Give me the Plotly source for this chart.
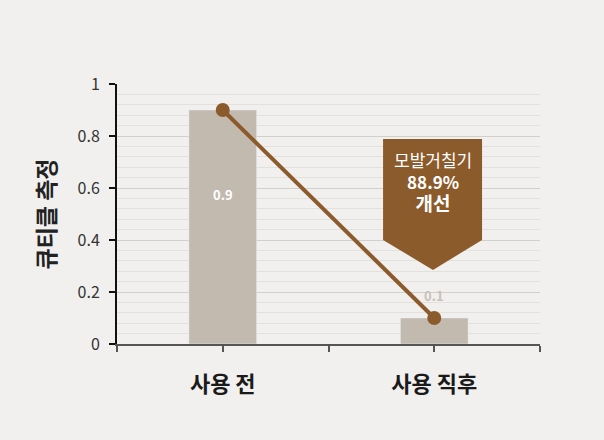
import plotly.graph_objects as go

categories = ["사용 전", "사용 직후"]
values = [0.9, 0.1]
value_label_y = [0.576, 0.188]
y_ticks = [0, 0.2, 0.4, 0.6, 0.8, 1]
y_tick_text = ["0", "0.2", "0.4", "0.6", "0.8", "1"]
callout_lines = ["모발거칠기", "<b>88.9%</b>",
                 "<span style='font-size:19px'><b>개선</b></span>"]

font = "Noto Sans CJK KR"
bg = "#f1f0ee"
brown = "#8c5b2c"
bar_col = "#c2b9af"

xpos = list(range(len(categories)))

fig = go.Figure()
fig.add_trace(go.Bar(x=xpos, y=values, width=0.32, marker_color=bar_col,
                     hoverinfo="y"))
fig.add_trace(go.Scatter(x=xpos, y=values, mode="lines+markers",
                         line=dict(color=brown, width=4),
                         marker=dict(color=brown, size=14)))

# value labels
label_cols = ["#ffffff", "#c9c1b8"]
for i, v in enumerate(values):
    fig.add_annotation(x=xpos[i], y=value_label_y[i], text="<b>%g</b>" % v,
                       showarrow=False,
                       font=dict(family=font, size=13, color=label_cols[i]))

# callout arrow box
fig.add_shape(type="path", xref="x", yref="y",
              path="M 0.758 0.788 L 1.226 0.788 L 1.226 0.4 L 0.994 0.285 "
                   "L 0.758 0.4 Z",
              fillcolor=brown, line=dict(width=0), layer="above")
fig.add_annotation(x=0.994, y=0.624, text="<br>".join(callout_lines),
                   showarrow=False,
                   font=dict(family=font, size=17, color="#ffffff"))

fig.update_layout(
    width=604, height=440,
    margin=dict(l=117, r=64, t=84, b=96),
    paper_bgcolor=bg, plot_bgcolor=bg,
    showlegend=False,
    font=dict(family=font, color="#222222"),
    xaxis=dict(range=[-0.5, 1.5],
               tickvals=[-0.5, 0, 0.5, 1, 1.5],
               ticktext=["", "<b>" + categories[0] + "</b>", "",
                         "<b>" + categories[1] + "</b>", ""],
               tickfont=dict(size=22, color="#1a1a1a"),
               ticks="outside", ticklen=6, tickwidth=2, tickcolor="#555555",
               ticklabelstandoff=14,
               showline=True, linecolor="#555555", linewidth=2,
               showgrid=False, zeroline=False, fixedrange=True),
    yaxis=dict(range=[0, 1], tickvals=y_ticks, ticktext=y_tick_text,
               tickfont=dict(size=16, color="#333333"),
               ticks="outside", ticklen=6, tickwidth=2, tickcolor="#111111",
               ticklabelstandoff=6,
               showline=True, linecolor="#111111", linewidth=2,
               showgrid=True, gridcolor="#d2d0cd", gridwidth=1,
               minor=dict(dtick=0.04, showgrid=True, gridcolor="#e3e1de",
                          gridwidth=1, ticks=""),
               zeroline=False, fixedrange=True,
               title=dict(text="<b>큐티클 측정</b>", font=dict(size=23),
                          standoff=16)),
)

fig.write_html("out.html", config={"displayModeBar": False},
               post_script="document.body.style.margin='0';"
                           "document.body.style.background='%s';" % bg)
